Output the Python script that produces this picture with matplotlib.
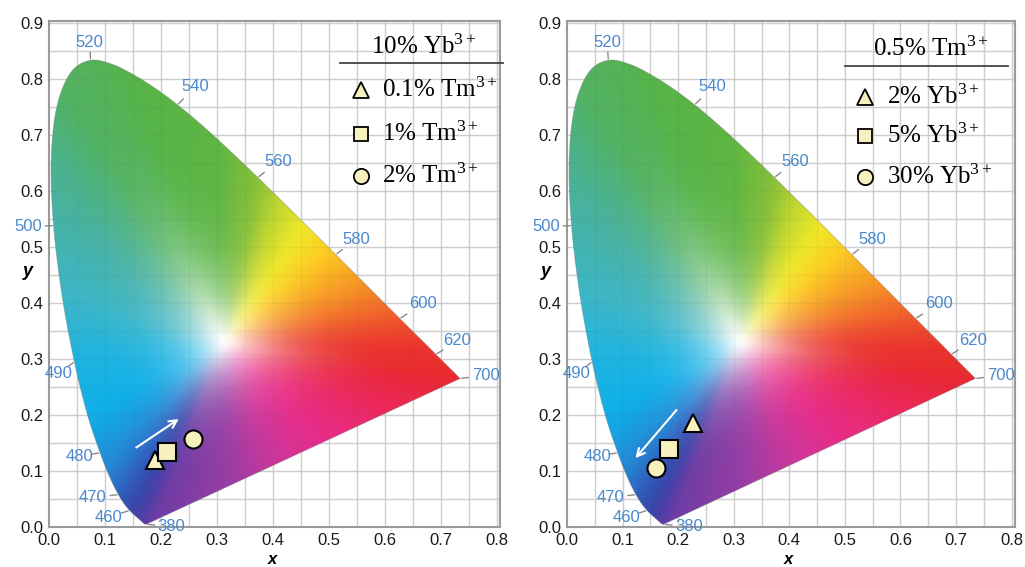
import numpy as np
import matplotlib.pyplot as plt
from matplotlib.patches import Polygon

plt.rcParams['mathtext.fontset'] = 'custom'
plt.rcParams['mathtext.rm'] = 'Liberation Serif'
plt.rcParams['mathtext.it'] = 'Liberation Serif:italic'

# CIE 1931 2-degree spectral locus, 380-700 nm in 5 nm steps
wavelengths = np.arange(380, 701, 5)
locus_x = np.array([
    .1741, .1740, .1738, .1736, .1733, .1730, .1726, .1721, .1714, .1703,
    .1689, .1669, .1644, .1611, .1566, .1510, .1440, .1355, .1241, .1096,
    .0913, .0687, .0454, .0235, .0082, .0039, .0139, .0389, .0743, .1142,
    .1547, .1929, .2296, .2658, .3016, .3373, .3731, .4087, .4441, .4788,
    .5125, .5448, .5752, .6029, .6270, .6482, .6658, .6801, .6915, .7006,
    .7079, .7140, .7190, .7230, .7260, .7283, .7300, .7311, .7320, .7327,
    .7334, .7340, .7344, .7346, .7347])
locus_y = np.array([
    .0050, .0050, .0049, .0049, .0048, .0048, .0048, .0048, .0051, .0058,
    .0069, .0086, .0109, .0138, .0177, .0227, .0297, .0399, .0578, .0868,
    .1327, .2007, .2950, .4127, .5384, .6548, .7502, .8120, .8338, .8262,
    .8059, .7816, .7543, .7243, .6923, .6589, .6245, .5896, .5547, .5202,
    .4866, .4544, .4242, .3965, .3725, .3514, .3340, .3197, .3083, .2993,
    .2920, .2859, .2809, .2770, .2740, .2717, .2700, .2689, .2680, .2673,
    .2666, .2660, .2656, .2654, .2653])
white_point = (0.3127, 0.3290)

labelled_wl = [380, 460, 470, 480, 490, 500, 520, 540, 560, 580, 600, 620, 700]
# where each wavelength label sits relative to its locus point (points)
wl_label_offset = {380: (18, -2), 460: (-15, -5), 470: (-18.5, -2), 480: (-14.5, -2.5),
                   490: (-11.5, -8.5), 500: (-18.5, -0.5), 520: (-0.7, 13),
                   540: (13, 13), 560: (14.8, 11.5), 580: (14.4, 11.1),
                   600: (16.8, 10.6), 620: (15.5, 9.9), 700: (18.3, 2.2)}

# panel data
left_title = '10% Yb$^{3+}$'
left_labels = ['0.1% Tm$^{3+}$', '1% Tm$^{3+}$', '2% Tm$^{3+}$']
left_x = [0.189, 0.210, 0.257]
left_y = [0.119, 0.134, 0.158]
left_arrow = [(0.156, 0.142), (0.232, 0.193)]

right_title = '0.5% Tm$^{3+}$'
right_labels = ['2% Yb$^{3+}$', '5% Yb$^{3+}$', '30% Yb$^{3+}$']
right_x = [0.227, 0.184, 0.160]
right_y = [0.185, 0.139, 0.105]
right_arrow = [(0.197, 0.209), (0.123, 0.123)]

markers = ['^', 's', 'o']

# printed-diagram palette along the boundary
pal_wl = [380, 440, 460, 470, 478, 485, 490, 495, 502, 512, 530, 550, 560,
          566, 572, 578, 585, 593, 602, 615, 700]
pal_wl_rgb = np.array([
    (105, 60, 165), (80, 62, 168), (55, 72, 170), (48, 95, 190), (35, 140, 215),
    (15, 175, 232), (30, 180, 225), (60, 182, 200), (72, 178, 160), (82, 178, 100),
    (86, 180, 72), (95, 182, 66), (135, 192, 58), (195, 215, 48), (240, 232, 40),
    (252, 205, 35), (248, 165, 38), (243, 120, 42), (238, 80, 45), (235, 50, 45),
    (232, 40, 48)]) / 255.0
pal_u = [0.0, 0.25, 0.42, 0.55, 0.7, 0.85, 1.0]
pal_u_rgb = np.array([
    (105, 60, 165), (150, 62, 165), (205, 55, 155), (230, 45, 140),
    (235, 42, 110), (235, 40, 75), (232, 40, 48)]) / 255.0


def catmull_rom(x, y, k=12):
    p = np.column_stack([x, y])
    pad = np.vstack([p[0], p, p[-1]])
    out = []
    for i in range(1, len(pad) - 2):
        p0, p1, p2, p3 = pad[i - 1:i + 3]
        for t in np.linspace(0, 1, k, endpoint=False):
            out.append(0.5 * (2 * p1 + (-p0 + p2) * t
                              + (2 * p0 - 5 * p1 + 4 * p2 - p3) * t * t
                              + (-p0 + 3 * p1 - 3 * p2 + p3) * t ** 3))
    out.append(p[-1])
    return np.array(out)


smooth_locus = catmull_rom(locus_x, locus_y)
smooth_wl = np.interp(np.linspace(0, len(wavelengths) - 1, len(smooth_locus)),
                      np.arange(len(wavelengths)), wavelengths)


def boundary():
    u = np.linspace(1, 0, 80)[1:-1]
    px = locus_x[0] + (locus_x[-1] - locus_x[0]) * u
    py = locus_y[0] + (locus_y[-1] - locus_y[0]) * u
    spec_col = np.stack([np.interp(smooth_wl, pal_wl, pal_wl_rgb[:, k]) for k in range(3)], 1)
    pur_col = np.stack([np.interp(u, pal_u, pal_u_rgb[:, k]) for k in range(3)], 1)
    bx = np.concatenate([smooth_locus[:, 0], px])
    by = np.concatenate([smooth_locus[:, 1], py])
    return bx, by, np.vstack([spec_col, pur_col])


def box_blur(a, w, axis):
    pad = [(0, 0)] * a.ndim
    pad[axis] = (w, w)
    b = np.pad(a, pad, mode='edge')
    c = np.cumsum(b, axis=axis)
    c = np.insert(c, 0, 0, axis=axis)
    n = a.shape[axis]
    hi = np.take(c, np.arange(2 * w + 1, 2 * w + 1 + n), axis=axis)
    lo = np.take(c, np.arange(0, n), axis=axis)
    return (hi - lo) / (2 * w + 1)


def gamut_image(nx=560, ny=630):
    bx, by, bcol = boundary()
    ang_b = np.arctan2(by - white_point[1], bx - white_point[0])
    r_b = np.hypot(bx - white_point[0], by - white_point[1])
    order = np.argsort(ang_b)
    ang_b, r_b, bcol = ang_b[order], r_b[order], bcol[order]
    gx, gy = np.meshgrid(np.linspace(0, 0.8, nx), np.linspace(0, 0.9, ny))
    ang = np.arctan2(gy - white_point[1], gx - white_point[0])
    r = np.hypot(gx - white_point[0], gy - white_point[1])
    rb = np.interp(ang, ang_b, r_b, period=2 * np.pi)
    s = np.clip((r / rb - 0.02) / 0.98, 0, 1)
    f = 1 - (1 - s) ** 3.7
    img = np.ones((ny, nx, 3))
    for k in range(3):
        c = np.interp(ang, ang_b, bcol[:, k], period=2 * np.pi)
        img[..., k] = 1 - f * (1 - c)
    for _ in range(3):
        img = box_blur(box_blur(img, 4, 0), 4, 1)
    return np.clip(img, 0, 1)


img = gamut_image()
grey_grid = '#d6d6d6'
wl_color = '#4a88cc'
marker_face = '#f7f2bd'


def draw_panel(ax, title, labels, xs, ys, arrow, leg):
    ax.set_xlim(0, 0.806)
    ax.set_ylim(0, 0.904)
    for v in np.arange(0.05, 0.81, 0.05):
        ax.axvline(v, color=grey_grid, lw=1, zorder=0)
    for v in np.arange(0.05, 0.91, 0.05):
        ax.axhline(v, color=grey_grid, lw=1, zorder=0)
    poly = Polygon(smooth_locus, closed=True, facecolor='none',
                   edgecolor='#777777', lw=0.6, alpha=0.45, zorder=2)
    ax.add_patch(poly)
    im = ax.imshow(img, extent=(0, 0.8, 0, 0.9), origin='lower', aspect='auto',
                   interpolation='bilinear', zorder=1)
    im.set_clip_path(poly)
    # faint grid visible through the fill
    for v in np.arange(0.05, 0.81, 0.05):
        ax.axvline(v, color='#555555', lw=1, alpha=0.06, zorder=1.5)
    for v in np.arange(0.05, 0.91, 0.05):
        ax.axhline(v, color='#555555', lw=1, alpha=0.06, zorder=1.5)

    # wavelength ticks and labels
    for wl in labelled_wl:
        i = int(np.where(wavelengths == wl)[0][0])
        x0, y0 = locus_x[i], locus_y[i]
        ox, oy = wl_label_offset[wl]
        n = np.array([ox, oy]) / np.hypot(ox, oy)
        ax.annotate('', xy=(x0, y0), xytext=(n[0] * 6, n[1] * 6),
                    textcoords='offset points', annotation_clip=False,
                    arrowprops=dict(arrowstyle='-', color='#8a8a8a', lw=1,
                                    shrinkA=0, shrinkB=1))
        ax.annotate(str(wl), xy=(x0, y0), xytext=(ox, oy),
                    textcoords='offset points', ha='center', va='center',
                    color=wl_color, fontsize=12, family='Liberation Sans',
                    annotation_clip=False, zorder=5)

    # data points
    sizes = {'^': 13.5, 's': 12.5, 'o': 13}
    for m, x, y in zip(markers, xs, ys):
        ax.plot(x, y, marker=m, ms=sizes[m], mfc=marker_face,
                mec='black', mew=1.5, ls='none', zorder=6)
    ax.annotate('', xy=arrow[1], xytext=arrow[0],
                arrowprops=dict(arrowstyle='->', color='white', lw=1.5,
                                mutation_scale=14, shrinkA=0, shrinkB=0), zorder=6)

    # legend
    tx, ty, lx0, lx1, ly, mx, txt_x, rows = leg
    ax.text(tx, ty, title, transform=ax.transAxes, ha='center', va='center',
            fontsize=18, family='Liberation Serif', zorder=7)
    ax.plot([lx0, lx1], [ly, ly], color='#444444', lw=1.3, transform=ax.transAxes,
            clip_on=False, zorder=7)
    for m, lab, ry in zip(markers, labels, rows):
        ax.plot(mx, ry, marker=m, ms=sizes[m] - 2, mfc=marker_face, mec='black',
                mew=1.3, transform=ax.transAxes, clip_on=False, ls='none', zorder=7)
        ax.text(txt_x, ry, lab, transform=ax.transAxes, ha='left', va='center',
                fontsize=18, family='Liberation Serif', zorder=7)

    ticks_x = np.arange(0, 0.81, 0.1)
    ticks_y = np.arange(0, 0.91, 0.1)
    ax.set_xticks(ticks_x)
    ax.set_yticks(ticks_y)
    ax.set_xticklabels([f'{v:.1f}' for v in ticks_x])
    ax.set_yticklabels([f'{v:.1f}' for v in ticks_y])
    ax.tick_params(length=0, labelsize=12, pad=4, colors='#1a1a1a')
    for lab in ax.get_xticklabels() + ax.get_yticklabels():
        lab.set_family('Liberation Sans')
    for sp in ax.spines.values():
        sp.set_color('#9a9a9a')
        sp.set_linewidth(1.5)
    ax.set_xlabel('x', fontstyle='italic', fontweight='bold', fontsize=12, family='Liberation Sans',
                  va='center')
    ax.set_ylabel('y', fontstyle='italic', fontweight='bold', fontsize=13, family='Liberation Sans',
                  rotation=0, va='center', ha='center')
    ax.xaxis.set_label_coords(0.495, -0.064)
    ax.yaxis.set_label_coords(-0.047, 0.504)


fig = plt.figure(figsize=(10.25, 5.67), dpi=100)
ax1 = fig.add_axes([49 / 1025, 40 / 567, 451 / 1025, 506 / 567])
ax2 = fig.add_axes([567 / 1025, 40 / 567, 448 / 1025, 506 / 567])

draw_panel(ax1, left_title, left_labels, left_x, left_y, left_arrow,
           (0.83, 0.949, 0.645, 1.007, 0.917, 0.692, 0.738, [0.864, 0.777, 0.694]))
draw_panel(ax2, right_title, right_labels, right_x, right_y, right_arrow,
           (0.8125, 0.945, 0.62, 0.984, 0.911, 0.665, 0.715, [0.85, 0.773, 0.692]))

fig.savefig('out.png', dpi=100)
